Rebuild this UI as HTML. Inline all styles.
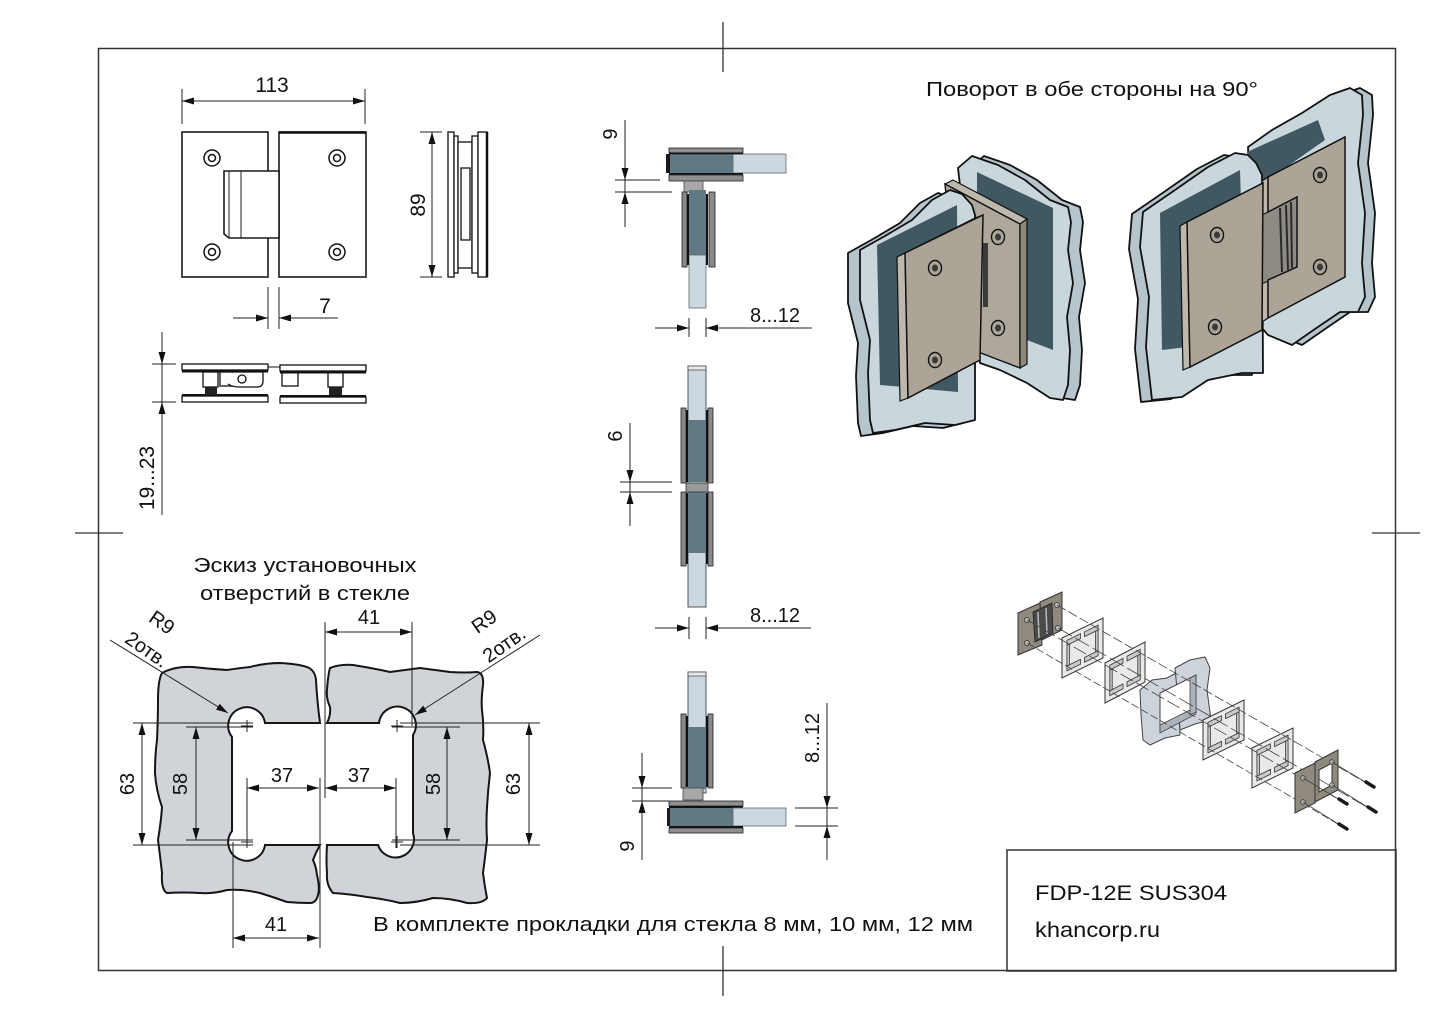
<!DOCTYPE html>
<html><head><meta charset="utf-8"><style>
html,body{margin:0;padding:0;background:#fff;}
svg{display:block;}
text{font-family:"Liberation Sans",Arial,sans-serif;fill:#111;}
.d{stroke:#222;stroke-width:1;fill:none;}
.o{stroke:#1a1a1a;stroke-width:1.6;fill:#fff;}
.g3{stroke:#111;stroke-width:1.8;stroke-linejoin:round;}
</style></head><body>
<svg width="1443" height="1020" viewBox="0 0 1443 1020" xmlns="http://www.w3.org/2000/svg">
<defs>
<marker id="ar" viewBox="0 0 12 7" refX="12" refY="3.5" markerWidth="12" markerHeight="7" markerUnits="userSpaceOnUse" orient="auto-start-reverse"><path d="M0,0 L12,3.5 L0,7 z" fill="#111"/></marker>
<g id="scr"><ellipse cx="0" cy="0" rx="6.5" ry="7.5" fill="none" stroke="#111" stroke-width="1.4"/><ellipse cx="0" cy="0" rx="3" ry="3.5" fill="#3a3a3a"/></g>
<g id="gsk">
<path d="M0,0 L100,0 L100,100 L0,100 Z" fill="#e9e9e9" stroke="#333" stroke-width="1" vector-effect="non-scaling-stroke"/>
<path d="M12,12 L45,12 L45,24 L12,24 Z M55,12 L88,12 L88,24 L55,24 Z M12,76 L45,76 L45,88 L12,88 Z M55,76 L88,76 L88,88 L55,88 Z M12,24 L18,24 L18,76 L12,76 Z M82,24 L88,24 L88,76 L82,76 Z" fill="#c9c9c9" stroke="#333" stroke-width="0.8" vector-effect="non-scaling-stroke"/>
</g>
</defs>

<!-- frame -->
<rect x="98.5" y="48.5" width="1297" height="922" fill="none" stroke="#333" stroke-width="1.5"/>
<rect x="1007" y="850" width="389" height="121" fill="none" stroke="#333" stroke-width="1.5"/>
<line x1="723" y1="22" x2="723" y2="72" stroke="#333" stroke-width="1.3"/>
<line x1="723" y1="946" x2="723" y2="996" stroke="#333" stroke-width="1.3"/>
<line x1="75" y1="533" x2="123" y2="533" stroke="#333" stroke-width="1.3"/>
<line x1="1372" y1="533" x2="1420" y2="533" stroke="#333" stroke-width="1.3"/>

<!-- ===== front view ===== -->
<line class="d" x1="182" y1="89" x2="182" y2="124"/>
<line class="d" x1="365" y1="89" x2="365" y2="124"/>
<line class="d" x1="182" y1="101" x2="365" y2="101" marker-start="url(#ar)" marker-end="url(#ar)"/>
<text x="272" y="92" font-size="21" text-anchor="middle">113</text>

<rect class="o" x="182" y="132" width="86" height="145"/>
<rect class="o" x="279" y="132" width="87" height="145"/>
<line x1="279" y1="132.5" x2="366" y2="132.5" stroke="#111" stroke-width="2.5"/>
<path class="o" d="M224,171 H279 V238 H229 L224,234 Z"/>
<line class="d" x1="229" y1="171" x2="229" y2="238"/>
<line class="d" x1="241" y1="171" x2="241" y2="238"/>
<g fill="none" stroke="#111" stroke-width="1.5">
<circle cx="212" cy="158" r="8"/><circle cx="212" cy="158" r="3.5"/>
<circle cx="337" cy="158" r="8"/><circle cx="337" cy="158" r="3.5"/>
<circle cx="212" cy="252" r="8"/><circle cx="212" cy="252" r="3.5"/>
<circle cx="337" cy="252" r="8"/><circle cx="337" cy="252" r="3.5"/>
</g>
<line class="d" x1="268" y1="287" x2="268" y2="329"/>
<line class="d" x1="279" y1="287" x2="279" y2="329"/>
<line class="d" x1="233" y1="318" x2="268" y2="318" marker-end="url(#ar)"/>
<line class="d" x1="338" y1="318" x2="279" y2="318" marker-end="url(#ar)"/>
<text x="325" y="313" font-size="21" text-anchor="middle">7</text>

<!-- side view -->
<line class="d" x1="420" y1="132" x2="442" y2="132"/>
<line class="d" x1="420" y1="277" x2="442" y2="277"/>
<line class="d" x1="432" y1="132" x2="432" y2="277" marker-start="url(#ar)" marker-end="url(#ar)"/>
<text transform="translate(425,205) rotate(-90)" font-size="21" text-anchor="middle">89</text>
<g stroke="#111" stroke-width="1.3" fill="#fff">
<rect x="448" y="132" width="6" height="145"/>
<rect x="454" y="136" width="4" height="137"/>
<rect x="458" y="142" width="14" height="126"/>
<rect x="461" y="168" width="9" height="72"/>
<rect x="472" y="136" width="6" height="137"/>
<rect x="478" y="132" width="9" height="145"/>
</g>
<line x1="487" y1="132" x2="487" y2="277" stroke="#111" stroke-width="2.5"/>

<!-- bottom view -->
<line class="d" x1="152" y1="364" x2="176" y2="364"/>
<line class="d" x1="152" y1="402" x2="176" y2="402"/>
<line class="d" x1="162" y1="332" x2="162" y2="364" marker-end="url(#ar)"/>
<line class="d" x1="162" y1="364" x2="162" y2="402"/>
<line class="d" x1="162" y1="515" x2="162" y2="402" marker-end="url(#ar)"/>
<text transform="translate(154,478) rotate(-90)" font-size="21" text-anchor="middle">19...23</text>
<g stroke="#111" stroke-width="1.3" fill="#fff">
<rect x="182" y="364" width="86" height="6"/>
<rect x="280" y="365" width="86" height="6"/>
<rect x="182" y="396" width="86" height="6"/>
<rect x="280" y="397" width="86" height="6"/>
<rect x="203" y="372" width="15" height="15"/>
<rect x="328" y="372" width="15" height="15"/>
<rect x="220" y="372" width="13" height="14"/>
<rect x="282" y="372" width="16" height="14"/>
<path d="M233,372 H263 V381 Q263,387 257,387 H240 Q232,387 228,384"/>
<circle cx="242" cy="379" r="4"/>
</g>
<line x1="182" y1="371.5" x2="268" y2="371.5" stroke="#111" stroke-width="2"/>
<line x1="280" y1="372.5" x2="366" y2="372.5" stroke="#111" stroke-width="2"/>
<line x1="182" y1="395" x2="268" y2="395" stroke="#111" stroke-width="2"/>
<line x1="280" y1="396" x2="366" y2="396" stroke="#111" stroke-width="2"/>
<line x1="268" y1="367" x2="280" y2="367" stroke="#111" stroke-width="1"/>
<rect x="205" y="387" width="12" height="8" fill="#222"/>
<rect x="329" y="387" width="13" height="8" fill="#222"/>

<!-- ===== middle column ===== -->
<!-- view 1 -->
<line class="d" x1="615" y1="180" x2="660" y2="180"/>
<line class="d" x1="615" y1="192" x2="672" y2="192"/>
<line class="d" x1="625" y1="120" x2="625" y2="180" marker-end="url(#ar)"/>
<line class="d" x1="625" y1="180" x2="625" y2="192"/>
<line class="d" x1="625" y1="227" x2="625" y2="192" marker-end="url(#ar)"/>
<text transform="translate(617,134) rotate(-90)" font-size="20" text-anchor="middle">9</text>
<rect x="669" y="148" width="74" height="5" fill="#8f8f8f" stroke="#222" stroke-width="0.8"/>
<rect x="666" y="154" width="67" height="19" fill="#607985"/>
<rect x="733" y="154" width="53" height="19" fill="#cbd8e0" stroke="#666" stroke-width="0.8"/>
<rect x="666" y="154" width="4" height="19" fill="#1a1a1a"/>
<rect x="669" y="152.5" width="74" height="1.8" fill="#111"/>
<rect x="669" y="173" width="74" height="1.8" fill="#111"/>
<rect x="669" y="175" width="74" height="6" fill="#8f8f8f" stroke="#222" stroke-width="0.8"/>
<rect x="684" y="181" width="19" height="11" fill="#a8a8a8" stroke="#444" stroke-width="0.8"/>
<rect x="689" y="190" width="17" height="65" fill="#607985"/>
<rect x="689" y="255" width="17" height="53" fill="#cbd8e0" stroke="#666" stroke-width="0.8"/>
<rect x="682" y="192" width="5" height="75" fill="#8a8a8a" stroke="#222" stroke-width="0.8"/>
<rect x="709" y="192" width="6" height="75" fill="#8a8a8a" stroke="#222" stroke-width="0.8"/>
<rect x="687" y="194" width="2" height="71" fill="#111"/>
<rect x="706" y="194" width="2" height="71" fill="#111"/>
<line class="d" x1="689" y1="318" x2="689" y2="337"/>
<line class="d" x1="706" y1="318" x2="706" y2="337"/>
<line class="d" x1="655" y1="328" x2="689" y2="328" marker-end="url(#ar)"/>
<line class="d" x1="812" y1="328" x2="706" y2="328" marker-end="url(#ar)"/>
<text x="775" y="322" font-size="20" text-anchor="middle">8...12</text>

<!-- view 2 -->
<rect x="688" y="366" width="18" height="241" fill="#cbd8e0" stroke="#555" stroke-width="1"/>
<rect x="688" y="366" width="18" height="4" fill="#e3e8ec" stroke="#555" stroke-width="0.8"/>
<rect x="688" y="420" width="18" height="62" fill="#607985"/>
<rect x="688" y="490" width="18" height="63" fill="#607985"/>
<rect x="686" y="483" width="22" height="9" fill="#9a9a9a" stroke="#333" stroke-width="0.8"/>
<rect x="681" y="408" width="5" height="75" fill="#8a8a8a" stroke="#222" stroke-width="0.8"/>
<rect x="708" y="408" width="5" height="75" fill="#8a8a8a" stroke="#222" stroke-width="0.8"/>
<rect x="681" y="492" width="5" height="74" fill="#8a8a8a" stroke="#222" stroke-width="0.8"/>
<rect x="708" y="492" width="5" height="74" fill="#8a8a8a" stroke="#222" stroke-width="0.8"/>
<rect x="686" y="410" width="2" height="72" fill="#111"/>
<rect x="706" y="410" width="2" height="72" fill="#111"/>
<rect x="686" y="493" width="2" height="71" fill="#111"/>
<rect x="706" y="493" width="2" height="71" fill="#111"/>
<line class="d" x1="620" y1="482" x2="672" y2="482"/>
<line class="d" x1="620" y1="492" x2="672" y2="492"/>
<line class="d" x1="630" y1="423" x2="630" y2="482" marker-end="url(#ar)"/>
<line class="d" x1="630" y1="482" x2="630" y2="492"/>
<line class="d" x1="630" y1="526" x2="630" y2="492" marker-end="url(#ar)"/>
<text transform="translate(622,436) rotate(-90)" font-size="20" text-anchor="middle">6</text>
<line class="d" x1="689" y1="617" x2="689" y2="639"/>
<line class="d" x1="706" y1="617" x2="706" y2="639"/>
<line class="d" x1="655" y1="628" x2="689" y2="628" marker-end="url(#ar)"/>
<line class="d" x1="811" y1="628" x2="706" y2="628" marker-end="url(#ar)"/>
<text x="775" y="622" font-size="20" text-anchor="middle">8...12</text>

<!-- view 3 -->
<rect x="688" y="672" width="18" height="121" fill="#cbd8e0" stroke="#555" stroke-width="1"/>
<rect x="688" y="672" width="18" height="4" fill="#e3e8ec" stroke="#555" stroke-width="0.8"/>
<rect x="688" y="727" width="18" height="62" fill="#607985"/>
<rect x="681" y="714" width="5" height="74" fill="#8a8a8a" stroke="#222" stroke-width="0.8"/>
<rect x="708" y="714" width="5" height="74" fill="#8a8a8a" stroke="#222" stroke-width="0.8"/>
<rect x="686" y="716" width="2" height="71" fill="#111"/>
<rect x="706" y="716" width="2" height="71" fill="#111"/>
<rect x="683" y="788" width="20" height="12" fill="#a8a8a8" stroke="#444" stroke-width="0.8"/>
<rect x="669" y="801" width="74" height="5" fill="#8f8f8f" stroke="#222" stroke-width="0.8"/>
<rect x="669" y="806" width="74" height="2" fill="#111"/>
<rect x="667" y="808" width="66" height="18" fill="#607985"/>
<rect x="733" y="808" width="53" height="18" fill="#cbd8e0" stroke="#666" stroke-width="0.8"/>
<rect x="667" y="808" width="3" height="18" fill="#1a1a1a"/>
<rect x="669" y="826" width="74" height="2" fill="#111"/>
<rect x="669" y="828" width="74" height="5" fill="#8f8f8f" stroke="#222" stroke-width="0.8"/>
<line class="d" x1="632" y1="788" x2="672" y2="788"/>
<line class="d" x1="632" y1="801" x2="669" y2="801"/>
<line class="d" x1="642" y1="753" x2="642" y2="788" marker-end="url(#ar)"/>
<line class="d" x1="642" y1="788" x2="642" y2="801"/>
<line class="d" x1="642" y1="860" x2="642" y2="801" marker-end="url(#ar)"/>
<text transform="translate(634,846) rotate(-90)" font-size="20" text-anchor="middle">9</text>
<line class="d" x1="795" y1="808" x2="838" y2="808"/>
<line class="d" x1="795" y1="826" x2="838" y2="826"/>
<line class="d" x1="827" y1="703" x2="827" y2="808" marker-end="url(#ar)"/>
<line class="d" x1="827" y1="808" x2="827" y2="826"/>
<line class="d" x1="827" y1="860" x2="827" y2="826" marker-end="url(#ar)"/>
<text transform="translate(819,738) rotate(-90)" font-size="20" text-anchor="middle">8...12</text>

<!-- ===== hole sketch ===== -->
<text x="305" y="572" font-size="20" text-anchor="middle" textLength="223" lengthAdjust="spacingAndGlyphs">Эскиз установочных</text>
<text x="305" y="600" font-size="20" text-anchor="middle" textLength="210" lengthAdjust="spacingAndGlyphs">отверстий в стекле</text>

<path d="M162,673 Q175,666 193,667 Q210,669 227,670 Q240,668 250,667 Q265,663 280,663 Q298,664 307,667 Q315,670 316,680 Q317,700 320,723 L265,723 A18.5,18.5 0 1 0 232,737 L232,831 A18.5,18.5 0 1 0 265,845 L320,845 Q316,852 313,860 Q316,866 317,875 Q320,888 318,895 Q316,903 310,903 Q298,903 287,902 Q273,897 260,893 Q243,889 227,890 Q213,894 200,893 Q183,892 167,893 Q161,890 162,873 Q160,855 158,840 Q161,822 162,807 Q156,790 155,773 Q155,755 157,740 Q158,718 158,700 Q158,680 162,673 Z" fill="#d0d3d8" stroke="#151515" stroke-width="2"/>
<path d="M330,668 Q340,664 353,665 Q372,668 390,672 Q405,670 420,668 Q435,670 450,672 Q465,673 477,672 Q484,673 483,685 Q481,700 482,710 Q484,725 483,740 Q488,758 490,773 Q488,790 487,807 Q486,825 487,840 Q485,858 483,873 Q485,888 487,898 Q482,904 467,903 Q450,898 433,898 Q416,903 400,903 Q384,899 367,897 Q350,894 333,893 Q326,885 327,873 Q326,860 327,845 L378,845 A18.5,18.5 0 1 0 413,833 L413,735 A18.5,18.5 0 1 0 379,723 L327,723 Q331,715 330,707 Q326,698 327,690 Q328,675 330,668 Z" fill="#d0d3d8" stroke="#151515" stroke-width="2"/>

<!-- sketch dims -->
<line class="d" x1="325" y1="622" x2="325" y2="798"/>
<line class="d" x1="412" y1="622" x2="412" y2="726"/>
<line class="d" x1="325" y1="632" x2="412" y2="632" marker-start="url(#ar)" marker-end="url(#ar)"/>
<text x="369" y="624" font-size="20" text-anchor="middle">41</text>

<line class="d" x1="133" y1="723" x2="253" y2="723"/>
<line class="d" x1="133" y1="845" x2="253" y2="845"/>
<line class="d" x1="142" y1="723" x2="142" y2="845" marker-start="url(#ar)" marker-end="url(#ar)"/>
<text transform="translate(134,784) rotate(-90)" font-size="20" text-anchor="middle">63</text>
<line class="d" x1="186" y1="727" x2="253" y2="727"/>
<line class="d" x1="186" y1="840" x2="253" y2="840"/>
<line class="d" x1="196" y1="727" x2="196" y2="840" marker-start="url(#ar)" marker-end="url(#ar)"/>
<text transform="translate(187,784) rotate(-90)" font-size="20" text-anchor="middle">58</text>

<line class="d" x1="247" y1="778" x2="247" y2="848"/>
<line class="d" x1="320" y1="778" x2="320" y2="948"/>
<line class="d" x1="247" y1="788" x2="319" y2="788" marker-start="url(#ar)" marker-end="url(#ar)"/>
<text x="282" y="782" font-size="20" text-anchor="middle">37</text>
<line class="d" x1="396" y1="778" x2="396" y2="848"/>
<line class="d" x1="325" y1="788" x2="396" y2="788" marker-start="url(#ar)" marker-end="url(#ar)"/>
<text x="359" y="782" font-size="20" text-anchor="middle">37</text>

<line class="d" x1="392" y1="727" x2="460" y2="727"/>
<line class="d" x1="392" y1="840" x2="460" y2="840"/>
<line class="d" x1="447" y1="727" x2="447" y2="840" marker-start="url(#ar)" marker-end="url(#ar)"/>
<text transform="translate(440,784) rotate(-90)" font-size="20" text-anchor="middle">58</text>
<line class="d" x1="400" y1="723" x2="540" y2="723"/>
<line class="d" x1="400" y1="845" x2="540" y2="845"/>
<line class="d" x1="529" y1="723" x2="529" y2="845" marker-start="url(#ar)" marker-end="url(#ar)"/>
<text transform="translate(520,784) rotate(-90)" font-size="20" text-anchor="middle">63</text>

<line class="d" x1="233" y1="842" x2="233" y2="948"/>
<line class="d" x1="233" y1="938" x2="319" y2="938" marker-start="url(#ar)" marker-end="url(#ar)"/>
<text x="276" y="931" font-size="20" text-anchor="middle">41</text>

<g class="d">
<path d="M241,726 h12 M247,720 v12 M241,842 h12 M247,836 v12 M391,726 h12 M397,720 v12 M391,842 h12 M397,836 v12"/>
</g>
<line class="d" x1="110" y1="640" x2="228" y2="713" marker-end="url(#ar)"/>
<line class="d" x1="540" y1="635" x2="415" y2="715" marker-end="url(#ar)"/>
<text transform="translate(158,628) rotate(35)" font-size="20" text-anchor="middle">R9</text>
<text transform="translate(143,655) rotate(35)" font-size="20" text-anchor="middle">2отв.</text>
<text transform="translate(488,627) rotate(-35)" font-size="20" text-anchor="middle">R9</text>
<text transform="translate(508,650) rotate(-35)" font-size="20" text-anchor="middle">2отв.</text>

<text x="373" y="931" font-size="20" textLength="600" lengthAdjust="spacingAndGlyphs">В комплекте прокладки для стекла 8 мм, 10 мм, 12 мм</text>

<!-- title -->
<text x="926" y="96" font-size="20" textLength="332" lengthAdjust="spacingAndGlyphs">Поворот в обе стороны на 90°</text>
<text x="1035" y="900" font-size="21" textLength="192" lengthAdjust="spacingAndGlyphs">FDP-12E SUS304</text>
<text x="1035" y="937" font-size="21" textLength="125" lengthAdjust="spacingAndGlyphs">khancorp.ru</text>

<!-- ===== 3D left render ===== -->
<g class="g3">
<polygon transform="translate(12,0)" fill="#b6c4cb" points="958,168 972,156 998,165 1025,180 1050,200 1068,207 1071,222 1068,250 1073,283 1067,317 1070,350 1068,385 1063,400 1050,398 1027,383 1000,370 980,363"/>
<polygon fill="#c9d6dc" points="958,168 972,156 998,165 1025,180 1050,200 1068,207 1071,222 1068,250 1073,283 1067,317 1070,350 1068,385 1063,400 1050,398 1027,383 1000,370 980,363"/>
</g>
<polygon fill="#3f5862" points="977,172 1053,208 1053,350 1027,340 1027,225 977,200"/>
<polygon fill="#bdb7ac" stroke="#111" stroke-width="1.2" points="945,184 953,180 1027,219 1020,224"/>
<polygon fill="#aea89c" stroke="#111" stroke-width="1.4" points="945,184 1020,224 1020,368 960,345"/>
<polygon fill="#8e877c" stroke="#111" stroke-width="1.2" points="1020,224 1027,219 1027,364 1020,368"/>
<rect x="983" y="243" width="5" height="64" fill="#3a3a3a"/>
<use href="#scr" x="998" y="237"/>
<use href="#scr" x="998" y="328"/>
<g class="g3">
<polygon transform="translate(-12,3)" fill="#b6c4cb" points="860,250 885,236 912,220 932,200 950,190 962,194 972,205 975,215 975,420 955,425 925,423 895,430 873,433 870,420 868,373 870,340 860,300"/>
<polygon fill="#c9d6dc" points="860,250 885,236 912,220 932,200 950,190 962,194 972,205 975,215 975,420 955,425 925,423 895,430 873,433 870,420 868,373 870,340 860,300"/>
</g>
<polygon fill="#3f5862" points="877,245 957,205 958,392 880,385"/>
<polygon fill="#c4beb3" stroke="#111" stroke-width="1.2" points="897,257 975,218 983,215 905,253"/>
<polygon fill="#bdb7ac" stroke="#111" stroke-width="1.2" points="897,257 905,253 908,398 900,401"/>
<polygon fill="#aba497" stroke="#111" stroke-width="1.5" points="905,253 983,215 980,360 908,398"/>
<use href="#scr" x="935" y="268"/>
<use href="#scr" x="935" y="360"/>

<!-- ===== 3D right render ===== -->
<g class="g3">
<polygon transform="translate(10,0)" fill="#b6c4cb" points="1248,147 1272,130 1302,113 1330,95 1350,88 1362,95 1363,115 1358,163 1365,213 1362,263 1365,297 1358,312 1340,312 1315,329 1292,345 1268,335 1255,320"/>
<polygon fill="#c9d6dc" points="1248,147 1272,130 1302,113 1330,95 1350,88 1362,95 1363,115 1358,163 1365,213 1362,263 1365,297 1358,312 1340,312 1315,329 1292,345 1268,335 1255,320"/>
</g>
<polygon fill="#3f5862" points="1247,152 1318,120 1325,140 1268,180 1250,190"/>
<g class="g3">
<polygon transform="translate(-11,2)" fill="#b6c4cb" points="1143,212 1175,190 1208,167 1235,153 1248,155 1256,163 1262,175 1263,373 1242,373 1208,380 1182,397 1152,400 1146,347 1149,297 1140,247"/>
<polygon fill="#c9d6dc" points="1143,212 1175,190 1208,167 1235,153 1248,155 1256,163 1262,175 1263,373 1242,373 1208,380 1182,397 1152,400 1146,347 1149,297 1140,247"/>
</g>
<polygon fill="#3f5862" points="1160,213 1240,170 1245,340 1162,350"/>
<!-- C plate -->
<polygon fill="#c4beb3" stroke="#111" stroke-width="1.2" points="1262,181 1338,141 1345,137 1268,177"/>
<polygon fill="#bdb7ac" stroke="#111" stroke-width="1.2" points="1262,181 1268,177 1268,318 1262,322"/>
<polygon fill="#8d8a84" stroke="#111" stroke-width="1" points="1262,215 1297,197 1297,267 1262,284"/>
<path d="M1280,208 L1282,272 M1286,205 L1288,270 M1291,202 L1292,268" stroke="#2a2a2a" stroke-width="2" fill="none"/>
<path d="M1268,177 L1345,137 L1345,277 L1268,318 L1268,280 L1297,267 L1297,197 L1268,212 Z" fill="#aba497" stroke="#111" stroke-width="1.5"/>
<use href="#scr" x="1320" y="175"/>
<use href="#scr" x="1320" y="267"/>
<!-- front plate -->
<polygon fill="#c4beb3" stroke="#111" stroke-width="1.2" points="1180,226 1256,187 1263,183 1187,222"/>
<polygon fill="#bdb7ac" stroke="#111" stroke-width="1.2" points="1180,226 1187,222 1190,367 1183,370"/>
<polygon fill="#aba497" stroke="#111" stroke-width="1.5" points="1187,222 1263,183 1262,330 1190,367"/>
<use href="#scr" x="1217" y="235"/>
<use href="#scr" x="1215" y="327"/>

<!-- ===== exploded view ===== -->
<polygon points="1018,613 1040,603 1042,645 1018,655" fill="#8f897e" stroke="#333" stroke-width="1"/>
<polygon points="1040,602 1062,592 1062,630 1042,640" fill="#8f897e" stroke="#333" stroke-width="1"/>
<polygon points="1033,612 1052,603 1053,633 1035,642" fill="#4a4a4a" stroke="#222" stroke-width="0.8"/>
<path d="M1038,612 L1039,638 M1046,608 L1047,634" stroke="#bbb" stroke-width="1.5"/>
<g fill="#bbb" stroke="#333" stroke-width="0.8">
<circle cx="1027" cy="620" r="2.5"/><circle cx="1027" cy="643" r="2.5"/>
<circle cx="1057" cy="605" r="2.5"/><circle cx="1058" cy="628" r="2.5"/>
</g>
<use href="#gsk" transform="matrix(0.41,-0.20,0,0.40,1062,638)"/>
<use href="#gsk" transform="matrix(0.40,-0.21,0,0.40,1105,663)"/>
<!-- glass pieces -->
<polygon points="1140,690 1152,680 1167,678 1178,672 1180,735 1165,738 1150,745 1143,740 1141,715" fill="#cdd3da" stroke="#444" stroke-width="1"/>
<polygon points="1175,668 1190,660 1205,657 1210,668 1207,690 1211,720 1195,724 1180,730 1178,700" fill="#cdd3da" stroke="#444" stroke-width="1"/>
<polygon points="1160,693 1196,675 1196,712 1160,731" fill="#fff" stroke="#444" stroke-width="1"/>
<polygon points="1160,725 1196,707 1196,714 1160,733" fill="#aab2ba" stroke="#444" stroke-width="0.8"/>
<polygon points="1190,678 1196,675 1196,712 1190,715" fill="#aab2ba" stroke="#444" stroke-width="0.8"/>
<use href="#gsk" transform="matrix(0.41,-0.20,0,0.40,1203,720)"/>
<use href="#gsk" transform="matrix(0.41,-0.20,0,0.40,1252,748)"/>
<g stroke="#444" stroke-width="0.8" fill="none">
<line x1="1027" y1="620" x2="1343" y2="802" stroke-dasharray="14 4"/>
<line x1="1027" y1="643" x2="1343" y2="827" stroke-dasharray="8 3"/>
<line x1="1057" y1="605" x2="1370" y2="785" stroke-dasharray="10 3"/>
<line x1="1058" y1="628" x2="1372" y2="810" stroke-dasharray="16 4"/>
</g>
<polygon points="1295,773 1315,763 1315,803 1295,813" fill="#8f897e" stroke="#333" stroke-width="1"/>
<path d="M1315,762 L1338,750 L1338,790 L1315,802 Z M1319,770 L1332,763 L1332,785 L1319,792 Z" fill="#8f897e" fill-rule="evenodd" stroke="#333" stroke-width="1"/>
<g fill="#bbb" stroke="#333" stroke-width="0.8">
<circle cx="1303" cy="778" r="2.3"/><circle cx="1303" cy="802" r="2.3"/>
<circle cx="1332" cy="762" r="2.3"/><circle cx="1332" cy="785" r="2.3"/>
</g>
<g stroke="#444" stroke-width="0.8">
<line x1="1303" y1="778" x2="1340" y2="800"/>
<line x1="1303" y1="802" x2="1340" y2="825"/>
<line x1="1332" y1="762" x2="1367" y2="783"/>
<line x1="1332" y1="785" x2="1369" y2="808"/>
</g>
<g stroke="#1a1a1a" stroke-linecap="round">
<line x1="1366" y1="782" x2="1374" y2="787" stroke-width="3.5"/>
<line x1="1339" y1="799" x2="1347" y2="804" stroke-width="3.5"/>
<line x1="1368" y1="807" x2="1376" y2="812" stroke-width="3.5"/>
<line x1="1339" y1="824" x2="1347" y2="829" stroke-width="3.5"/>
</g>
</svg>
</body></html>
